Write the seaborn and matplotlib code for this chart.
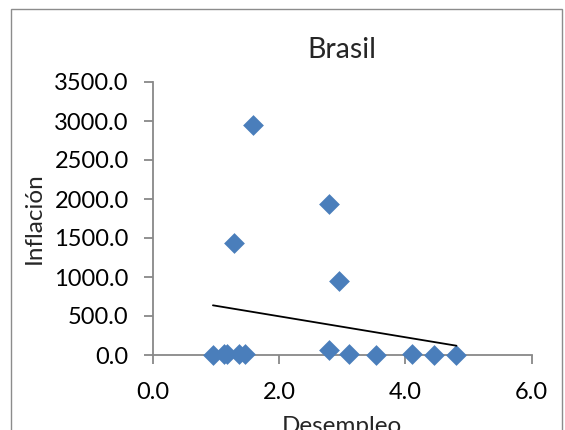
import numpy as np
import pandas as pd
import matplotlib
matplotlib.use("Agg")
import matplotlib.pyplot as plt
import seaborn as sns
from matplotlib.patches import Rectangle
from matplotlib.ticker import FormatStrFormatter

# values
desempleo = [0.95, 1.13, 1.18, 1.37, 1.46, 1.28, 1.58, 2.79, 2.79, 2.95, 3.10, 3.53, 4.10, 4.45, 4.81]
inflacion = [5, 8, 10, 10, 15, 1432, 2949, 1936, 64, 953, 10, 5, 8, 5, 5]

# linear trendline ends as drawn in the reference
trend_x = [0.95, 4.81]
trend_y = [637, 119]

x_ticks = [0, 2, 4, 6]
y_ticks = [0, 500, 1000, 1500, 2000, 2500, 3000, 3500]

df = pd.DataFrame({'Desempleo': desempleo, 'Inflacion': inflacion})

sns.set_style("white")
plt.rcParams['font.family'] = ['Lato', 'DejaVu Sans']

fig = plt.figure(figsize=(5.65, 4.3), dpi=100)
ax = fig.add_axes([153 / 565, 1 - 355 / 430, (531.5 - 153) / 565, (355 - 82) / 430])

sns.scatterplot(data=df, x='Desempleo', y='Inflacion', marker='D', s=112,
                color='#4A7EBB', linewidth=0, ax=ax, zorder=3, clip_on=False)
ax.plot(trend_x, trend_y, color='black', lw=1.3, zorder=4)

ax.set_xlim(0, 6)
ax.set_ylim(0, 3500)
ax.set_xticks(x_ticks)
ax.set_yticks(y_ticks)
ax.xaxis.set_major_formatter(FormatStrFormatter('%.1f'))
ax.yaxis.set_major_formatter(FormatStrFormatter('%.1f'))

for side in ['top', 'right']:
    ax.spines[side].set_visible(False)
for side in ['left', 'bottom']:
    ax.spines[side].set_color('#888888')
    ax.spines[side].set_linewidth(1.3)

ax.tick_params(axis='both', which='major', direction='out', length=6.5, width=1.3,
               color='#888888', labelsize=17, labelcolor='black',
               bottom=True, left=True)
ax.tick_params(axis='x', pad=13)
ax.tick_params(axis='y', pad=11)

ax.set_title('Brasil', fontsize=20.5, pad=17)
ax.set_ylabel('Inflación', fontsize=17.5, labelpad=7)
ax.set_xlabel('Desempleo', fontsize=17.5, labelpad=9)

# outer chart border like the spreadsheet chart area
fig.patches.append(Rectangle((10.5 / 565, -0.1), (562 - 10.5) / 565, 1.1 - 9.5 / 430,
                             transform=fig.transFigure, fill=False,
                             edgecolor='#8c8c8c', lw=1.0))

fig.savefig('out.png', dpi=100)
